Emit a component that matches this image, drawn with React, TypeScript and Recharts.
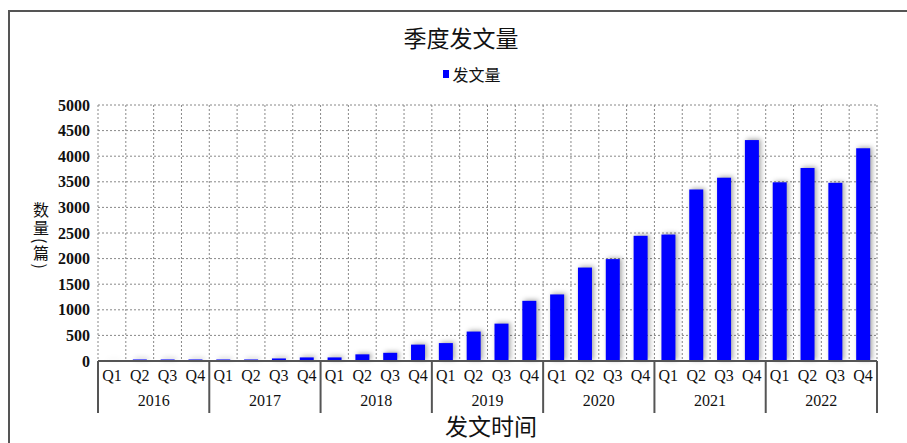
import { BarChart, Bar, XAxis, YAxis, CartesianGrid } from 'recharts';

// ── data ─────────────────────────────────────────────
const years = ['2016', '2017', '2018', '2019', '2020', '2021', '2022'];
const quarterLabels = ['Q1', 'Q2', 'Q3', 'Q4'];
// 发文量 per quarter, 2016Q1 → 2022Q4
const counts = [
  5, 30, 30, 30,
  30, 30, 50, 70,
  70, 130, 160, 320,
  350, 575, 730, 1175,
  1300, 1825, 1990, 2445,
  2470, 3350, 3580, 4315,
  3490, 3770, 3480, 4155,
];
const yTicks = [0, 500, 1000, 1500, 2000, 2500, 3000, 3500, 4000, 4500, 5000];
const seriesName = '发文量';

const chartData = counts.map((v, i) => ({
  key: `${years[Math.floor(i / 4)]}-${quarterLabels[i % 4]}`,
  value: v,
}));

// ── layout ───────────────────────────────────────────
const W = 907;
const H = 443;
const MARGIN = { top: 105, right: 30, left: 38, bottom: 30 };
const Y_AXIS_W = 60;
const X_AXIS_H = 52;
const PLOT_W = W - MARGIN.left - Y_AXIS_W - MARGIN.right;
const serif = '"Liberation Serif", "DejaVu Serif", serif';
const cjk = '"Noto Sans CJK SC", sans-serif';

function QuarterTick(props: any) {
  const { x, y, payload } = props;
  const index: number = props.index ?? payload.index;
  const q = index % 4;
  const step = PLOT_W / counts.length;
  return (
    <g>
      <text x={x} y={y + 20} textAnchor="middle" fontFamily={serif} fontSize={16} fill="#111">
        {quarterLabels[q]}
      </text>
      {q === 0 && (
        <line x1={x - step / 2} x2={x - step / 2} y1={y} y2={y + X_AXIS_H} stroke="#555" strokeWidth={2} />
      )}
      {q === 1 && (
        <text x={x + step / 2} y={y + 45} textAnchor="middle" fontFamily={serif} fontSize={16} fill="#111">
          {years[Math.floor(index / 4)]}
        </text>
      )}
      {index === counts.length - 1 && (
        <line x1={x + step / 2} x2={x + step / 2} y1={y} y2={y + X_AXIS_H} stroke="#555" strokeWidth={2} />
      )}
    </g>
  );
}

function ShadowBar(props: any) {
  const { x, y, width, height, fill } = props;
  if (!height || height <= 0) return null;
  return (
    <rect
      x={x}
      y={y}
      width={width}
      height={height}
      fill={fill}
      style={{ filter: 'drop-shadow(2px -1px 2.5px rgba(0,0,0,0.35))' }}
    />
  );
}

export default function App() {
  return (
    <div style={{ position: 'fixed', left: 0, top: 0, width: W, height: H, overflow: 'hidden', background: '#fff' }}>
      <div style={{ position: 'absolute', left: 8, top: 10, width: 1200, height: 1200, border: '2px solid #555', boxSizing: 'border-box' }} />
      <div style={{ position: 'absolute', left: 361, width: 200, top: 23, textAlign: 'center', fontFamily: cjk, fontSize: 23, lineHeight: '28px', color: '#111' }}>
        季度发文量
      </div>
      <div style={{ position: 'absolute', left: 372, width: 200, top: 63, display: 'flex', alignItems: 'center', justifyContent: 'center', fontFamily: cjk, fontSize: 16, lineHeight: '22px', color: '#111' }}>
        <span style={{ display: 'inline-block', width: 6, height: 8, background: '#0000ff', marginRight: 3 }} />
        {seriesName}
      </div>
      <div style={{ position: 'absolute', left: 33, top: 202, writingMode: 'vertical-rl', fontFamily: cjk, fontSize: 16, lineHeight: '16px', letterSpacing: 2, color: '#111' }}>
        数量(篇)
      </div>
      <div style={{ position: 'absolute', left: 391, width: 200, top: 412, textAlign: 'center', fontFamily: cjk, fontSize: 23, lineHeight: '27px', color: '#111' }}>
        发文时间
      </div>
      <div style={{ position: 'absolute', left: 0, top: 0 }}>
        <BarChart width={W} height={H} data={chartData} margin={MARGIN}>
          <CartesianGrid
            stroke="#888"
            strokeDasharray="2 2"
            verticalCoordinatesGenerator={({ offset }: any) =>
              counts.map((_, i) => offset.left + (i * offset.width) / counts.length).concat(offset.left + offset.width)
            }
          />
          <XAxis
            dataKey="key"
            interval={0}
            height={X_AXIS_H}
            tickSize={0}
            tickMargin={0}
            tickLine={false}
            axisLine={{ stroke: '#555', strokeWidth: 2 }}
            tick={<QuarterTick />}
          />
          <YAxis
            width={Y_AXIS_W}
            domain={[0, 5000]}
            ticks={yTicks}
            interval={0}
            axisLine={false}
            tickLine={false}
            tickSize={0}
            tickMargin={8}
            tick={{ fontFamily: serif, fontSize: 16, fontWeight: 'bold', fill: '#111' }}
          />
          <Bar dataKey="value" name={seriesName} fill="#0000ff" barSize={14} shape={<ShadowBar />} isAnimationActive={false} />
        </BarChart>
      </div>
    </div>
  );
}
